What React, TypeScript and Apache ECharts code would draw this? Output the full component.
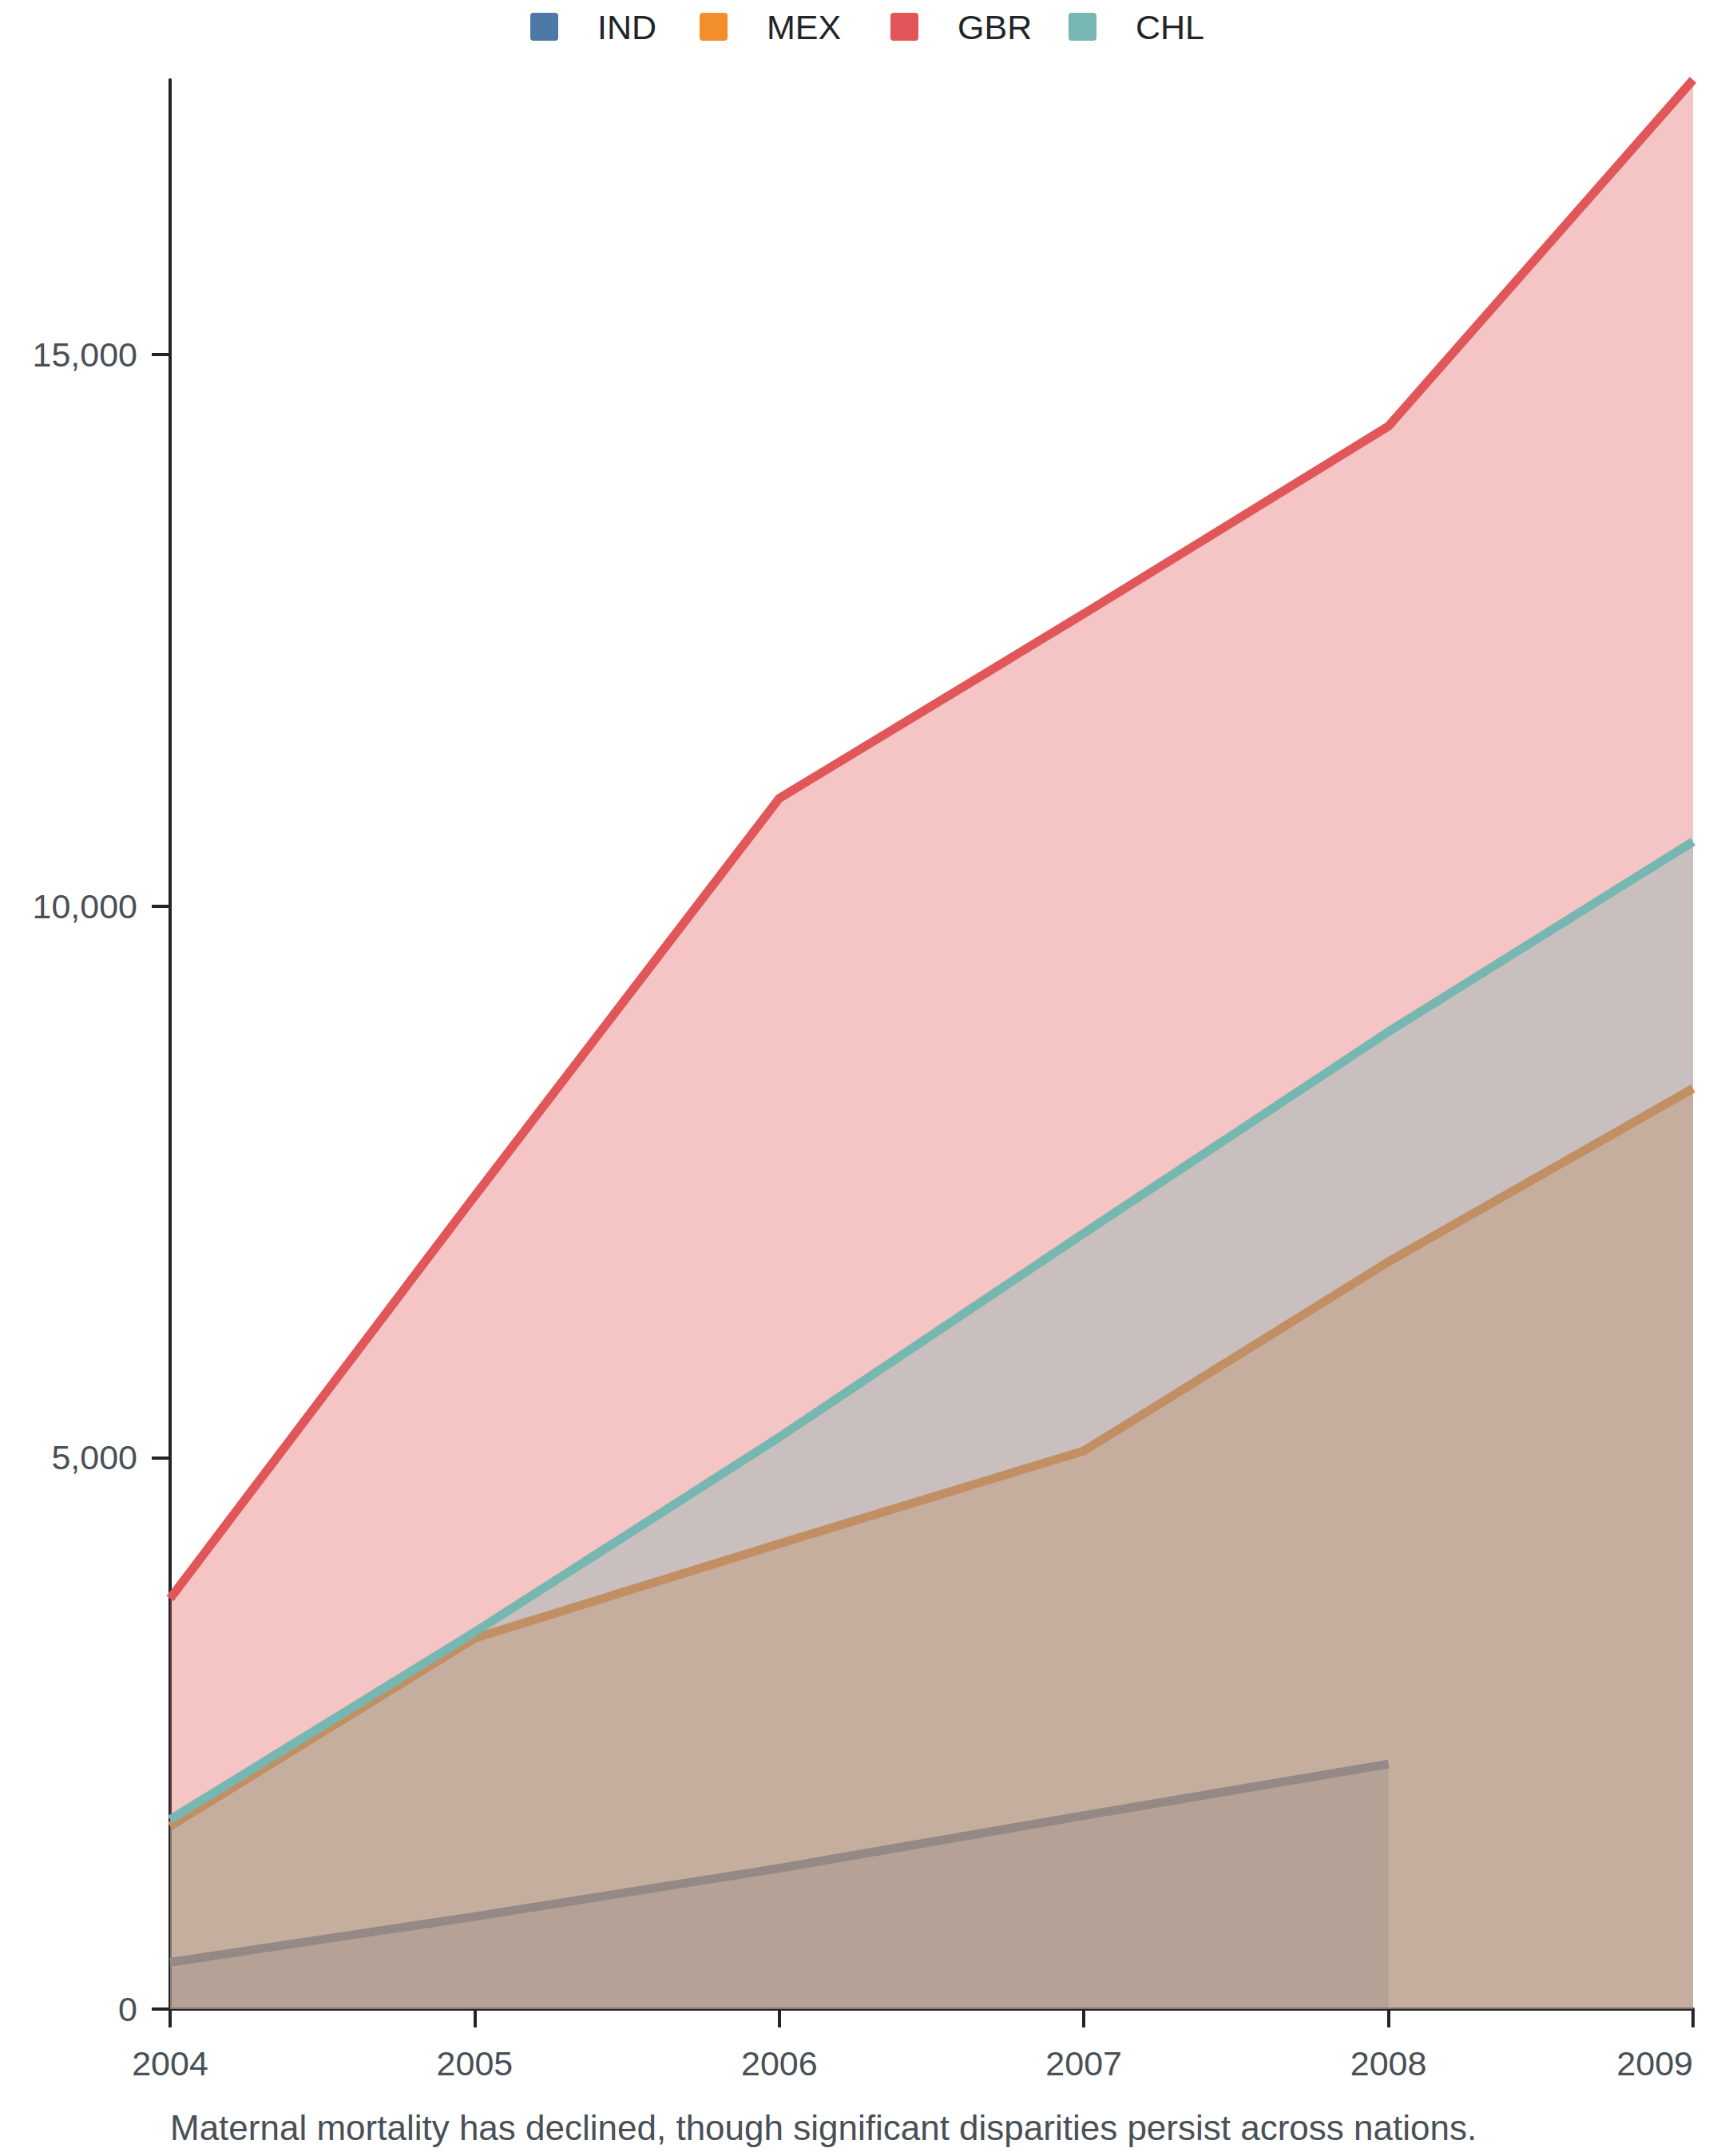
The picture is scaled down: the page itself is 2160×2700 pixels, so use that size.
import React, { useEffect, useRef } from "react";
import * as echarts from "echarts";

const years = ["2004", "2005", "2006", "2007", "2008", "2009"];
const seriesNames = ["IND", "MEX", "GBR", "CHL"];
const indValues = [424, 839, 1277, 1755, 2221, null];
const mexValues = [1657, 3362, 4219, 5060, 6775, 8346];
const gbrValues = [3722, 7371, 10977, 12650, 14350, 17490];
const chlValues = [1718, 3417, 5185, 7034, 8861, 10584];
const yTickValues = [0, 5000, 10000, 15000];
const colors = ["#4e79a7", "#f28e2b", "#e15759", "#76b7b2"];
const legendLefts = [664, 876, 1115, 1338];
const footnote =
  "Maternal mortality has declined, though significant disparities persist across nations.";

const FONT = "'Liberation Sans', Arial, Helvetica, sans-serif";

export default function App() {
  const ref = useRef<HTMLDivElement>(null);

  useEffect(() => {
    document.body.style.margin = "0";
    if (!ref.current) return;
    const chart = echarts.init(ref.current, null, { renderer: "svg" });
    const allValues = [indValues, mexValues, gbrValues, chlValues];
    const iconPath =
      "path://M4,0 H31 A4,4 0 0 1 35,4 V31 A4,4 0 0 1 31,35 H4 A4,4 0 0 1 0,31 V4 A4,4 0 0 1 4,0 Z";
    chart.setOption({
      animation: false,
      color: colors,
      textStyle: { fontFamily: FONT },
      legend: seriesNames.map((name, i) => ({
        top: 12,
        left: legendLefts[i],
        padding: 0,
        icon: iconPath,
        itemWidth: 35,
        itemHeight: 35,
        textStyle: {
          fontSize: 43,
          color: "#212529",
          fontFamily: FONT,
          padding: [0, 0, 0, 44],
        },
        data: [name],
      })),
      grid: { left: 213, right: 40, top: 100, bottom: 184, containLabel: false },
      xAxis: {
        type: "category",
        data: years,
        boundaryGap: false,
        axisLine: { show: true, lineStyle: { color: "#212529", width: 4 } },
        axisTick: { show: true, length: 23, lineStyle: { color: "#212529", width: 4 } },
        axisLabel: {
          fontSize: 43,
          color: "#495057",
          margin: 46,
          fontFamily: FONT,
          alignMaxLabel: "right",
        },
        splitLine: { show: false },
      },
      yAxis: {
        type: "value",
        min: 0,
        max: "dataMax",
        interval: 5000,
        axisLine: { show: true, lineStyle: { color: "#212529", width: 4 } },
        axisTick: {
          show: true,
          length: 23,
          customValues: yTickValues,
          lineStyle: { color: "#212529", width: 4 },
        },
        axisLabel: {
          fontSize: 43,
          color: "#495057",
          margin: 41,
          fontFamily: FONT,
          customValues: yTickValues,
        },
        splitLine: { show: false },
      },
      graphic: [
        {
          type: "text",
          left: 213,
          top: 2642,
          style: {
            text: footnote,
            font: `44px ${FONT}`,
            fill: "#495057",
          },
        },
      ],
      series: seriesNames.map((name, i) => ({
        name,
        type: "line",
        z: 2 + i,
        data: allValues[i],
        showSymbol: false,
        symbol: "none",
        connectNulls: false,
        lineStyle: { width: 11, color: colors[i] },
        itemStyle: { color: colors[i] },
        areaStyle: { color: colors[i], opacity: 0.35 },
      })),
    });
    return () => chart.dispose();
  }, []);

  return <div ref={ref} style={{ width: 2160, height: 2700 }} />;
}
